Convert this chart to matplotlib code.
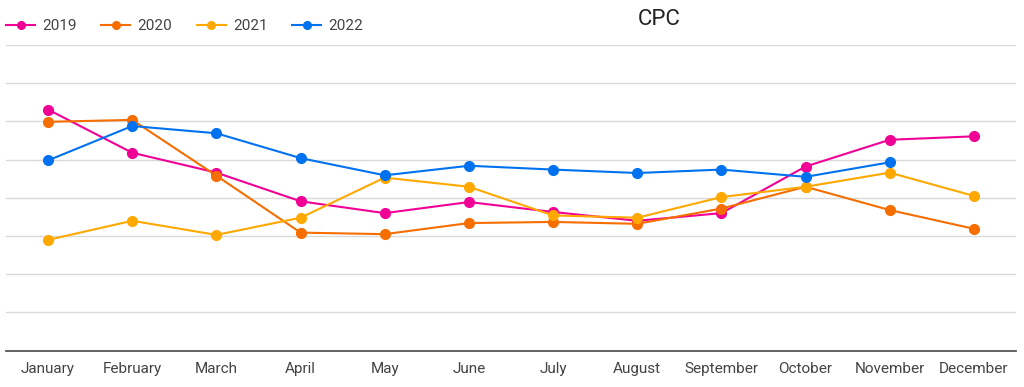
import matplotlib
matplotlib.use("Agg")
import matplotlib.pyplot as plt
from matplotlib.lines import Line2D
import numpy as np

plt.rcParams['font.family'] = ['Roboto', 'DejaVu Sans']

months = ["January", "February", "March", "April", "May", "June", "July",
          "August", "September", "October", "November", "December"]
series_names = ["2019", "2020", "2021", "2022"]
cpc_2019 = [6.31, 5.18, 4.66, 3.91, 3.60, 3.89, 3.63, 3.40, 3.60, 4.82, 5.52, 5.61]
cpc_2020 = [5.99, 6.04, 4.58, 3.09, 3.05, 3.34, 3.37, 3.32, 3.72, 4.29, 3.68, 3.19]
cpc_2021 = [2.90, 3.40, 3.03, 3.48, 4.53, 4.29, 3.54, 3.48, 4.02, 4.29, 4.66, 4.05]
cpc_2022 = [4.98, 5.88, 5.69, 5.04, 4.59, 4.84, 4.74, 4.65, 4.74, 4.55, 4.93, None]
colors = ["#f10096", "#f66d00", "#ffa800", "#0072f0"]

fig = plt.figure(figsize=(10.24, 3.87), dpi=100)
ax = fig.add_axes([6/1024, 1 - 350.7/387, 1010/1024, (350.7 - 45)/387])

x = np.arange(len(months))
for name, vals, c in zip(series_names, [cpc_2019, cpc_2020, cpc_2021, cpc_2022], colors):
    v = np.array([np.nan if a is None else a for a in vals], dtype=float)
    ax.plot(x, v, color=c, lw=1.5, marker='o', ms=7, label=name, zorder=3)

ax.set_xlim(-0.5, len(months) - 0.5)
ax.set_ylim(0, 8)
ax.set_yticks(np.arange(1, 9))
ax.yaxis.grid(True, color="#d9d9d9", lw=1)
ax.set_axisbelow(True)
ax.tick_params(axis='y', left=False, labelleft=False)
ax.set_xticks(x)
ax.set_xticklabels(months, fontsize=11, color="#444444")
ax.tick_params(axis='x', length=0, pad=8)
for s in ['top', 'right', 'left']:
    ax.spines[s].set_visible(False)
ax.spines['bottom'].set_color("#555555")
ax.spines['bottom'].set_linewidth(1.3)

fig.text(659/1024, 1 - 19.5/387, "CPC", fontsize=16, color="#222222",
         ha='center', va='center')

handles = [Line2D([], [], color=c, lw=1.5, marker='o', ms=5.5) for c in colors]
leg = ax.legend(handles, series_names, loc='center left',
                bbox_to_anchor=(6/1024, 1 - 26/387),
                bbox_transform=fig.transFigure, ncol=4, frameon=False,
                fontsize=11, handlelength=1.9, handletextpad=0.46,
                columnspacing=1.62, borderaxespad=0, borderpad=0)
for t in leg.get_texts():
    t.set_color("#444444")

fig.savefig("out.png", dpi=100)
